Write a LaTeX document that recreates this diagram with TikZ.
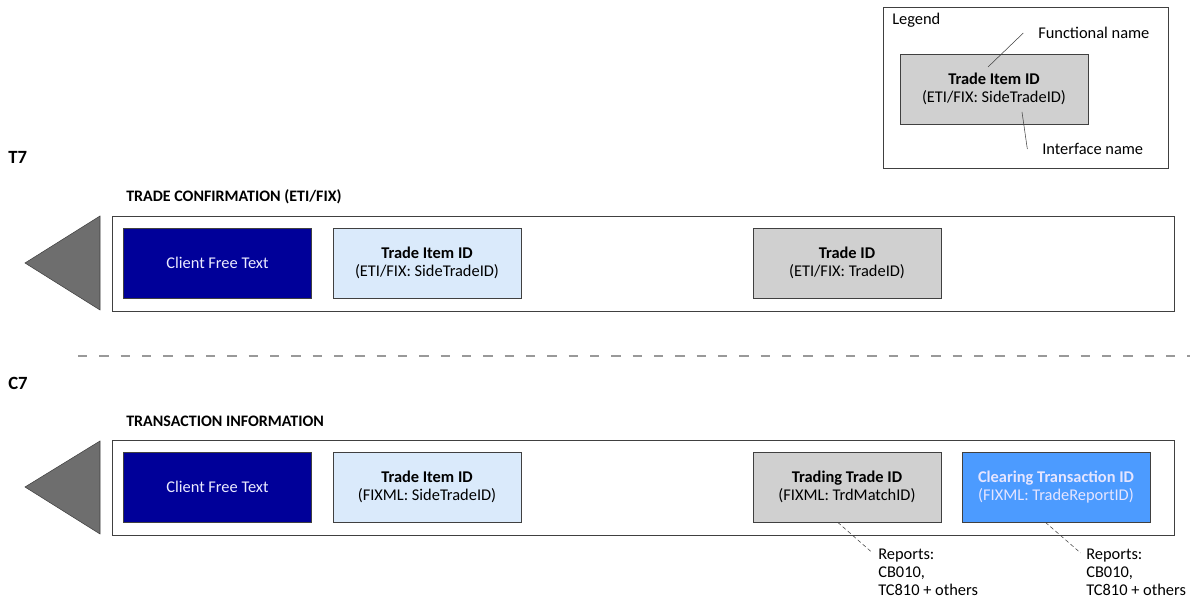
\documentclass[tikz,border=0pt]{standalone}
\usepackage{fontspec}
\setmainfont{Carlito}
\usepackage{tikz}
\usetikzlibrary{shapes, arrows.meta, positioning}
\definecolor{navy}{HTML}{000099}
\definecolor{paleblue}{HTML}{DAEAFB}
\definecolor{idgray}{HTML}{D0D0D0}
\definecolor{clearblue}{HTML}{4C9BFF}
\definecolor{framegray}{HTML}{404040}
\tikzstyle{block} = [draw=framegray, rectangle, minimum width=141pt, minimum height=52.5pt, align=center, font=\fontsize{12.3}{13.5}\selectfont, inner sep=0pt]
\tikzstyle{frame} = [draw=framegray, fill=white, rectangle, minimum width=796.5pt, minimum height=71pt, inner sep=0pt]
\tikzstyle{arrowhead} = [draw=framegray, fill=black!57, line join=miter]
\tikzstyle{system} = [anchor=west, font=\fontsize{14}{16}\selectfont\bfseries, inner sep=0pt]
\tikzstyle{msg} = [anchor=west, font=\fontsize{12}{14}\selectfont\bfseries, inner sep=0pt]
\tikzstyle{note} = [anchor=north west, align=left, font=\fontsize{12.3}{13.5}\selectfont, inner sep=0pt]

\begin{document}
\begin{tikzpicture}[x=0.75pt, y=-0.75pt]
  \useasboundingbox (0,0) rectangle (1190,605);
  % legend
  \node[draw=framegray, rectangle, minimum width=213.75pt, minimum height=120.75pt, inner sep=0pt] (legend) at (1025.5,87.5) {};
  \node[anchor=north west, inner sep=0pt, font=\fontsize{12.3}{13.5}\selectfont] (legendtitle) at (892,13) {Legend};
  \node[block, fill=idgray] (legendbox) at (994,89) {\textbf{Trade Item ID}\\(ETI/FIX: SideTradeID)};
  \node[anchor=west, inner sep=0pt, font=\fontsize{12.3}{13.5}\selectfont] (fname) at (1038,33) {Functional name};
  \node[anchor=west, inner sep=0pt, font=\fontsize{12.3}{13.5}\selectfont] (iname) at (1042,149) {Interface name};
  \coordinate (fnpt) at (988,67);
  \coordinate (inpt) at (1022,112);
  \draw[framegray] (fnpt) -- ([xshift=-11pt]fname.west);
  \draw[framegray] (inpt) -- ([xshift=-11pt]iname.west);

  % T7
  \node[system] (t7) at (8,157) {T7};
  \node[msg] (tconf) at (126,197) {TRADE CONFIRMATION (ETI/FIX)};
  \node[frame] (t7frame) at (643,263.5) {};
  \draw[arrowhead] (100,216) -- (25,263) -- (100,310) -- cycle;
  \node[block, fill=navy, text=white!92!blue] (t7text) at (217.5,263) {Client Free Text};
  \node[block, fill=paleblue] (t7item) at (427,263) {\textbf{Trade Item ID}\\(ETI/FIX: SideTradeID)};
  \node[block, fill=idgray] (t7trade) at (847,263) {\textbf{Trade ID}\\(ETI/FIX: TradeID)};

  \draw[black!40, line width=1.1pt, dash pattern=on 7pt off 9pt] (78,356) -- (1190,356);

  % C7
  \node[system] (c7) at (8,383) {C7};
  \node[msg] (tinfo) at (126,421) {TRANSACTION INFORMATION};
  \node[frame] (c7frame) at (643,488) {};
  \draw[arrowhead] (100,441) -- (25,487) -- (100,534) -- cycle;
  \node[block, fill=navy, text=white!92!blue] (c7text) at (217.5,487) {Client Free Text};
  \node[block, fill=paleblue] (c7item) at (427,487) {\textbf{Trade Item ID}\\(FIXML: SideTradeID)};
  \node[block, fill=idgray] (c7trade) at (847,487) {\textbf{Trading Trade ID}\\(FIXML: TrdMatchID)};
  \node[block, fill=clearblue, text=white!90!blue] (c7clear) at (1056,487) {\textbf{Clearing Transaction ID}\\(FIXML: TradeReportID)};
  \node[note] (rep1) at (878,549) {Reports:\\CB010,\\TC810 + others};
  \node[note] (rep2) at (1086,549) {Reports:\\CB010,\\TC810 + others};
  \draw[framegray, densely dashed] ([xshift=-7pt]c7trade.south) -- ([xshift=-4pt, yshift=-3pt]rep1.north west);
  \draw[framegray, densely dashed] ([xshift=-8pt]c7clear.south) -- ([xshift=-4pt, yshift=-3pt]rep2.north west);
\end{tikzpicture}
\end{document}
